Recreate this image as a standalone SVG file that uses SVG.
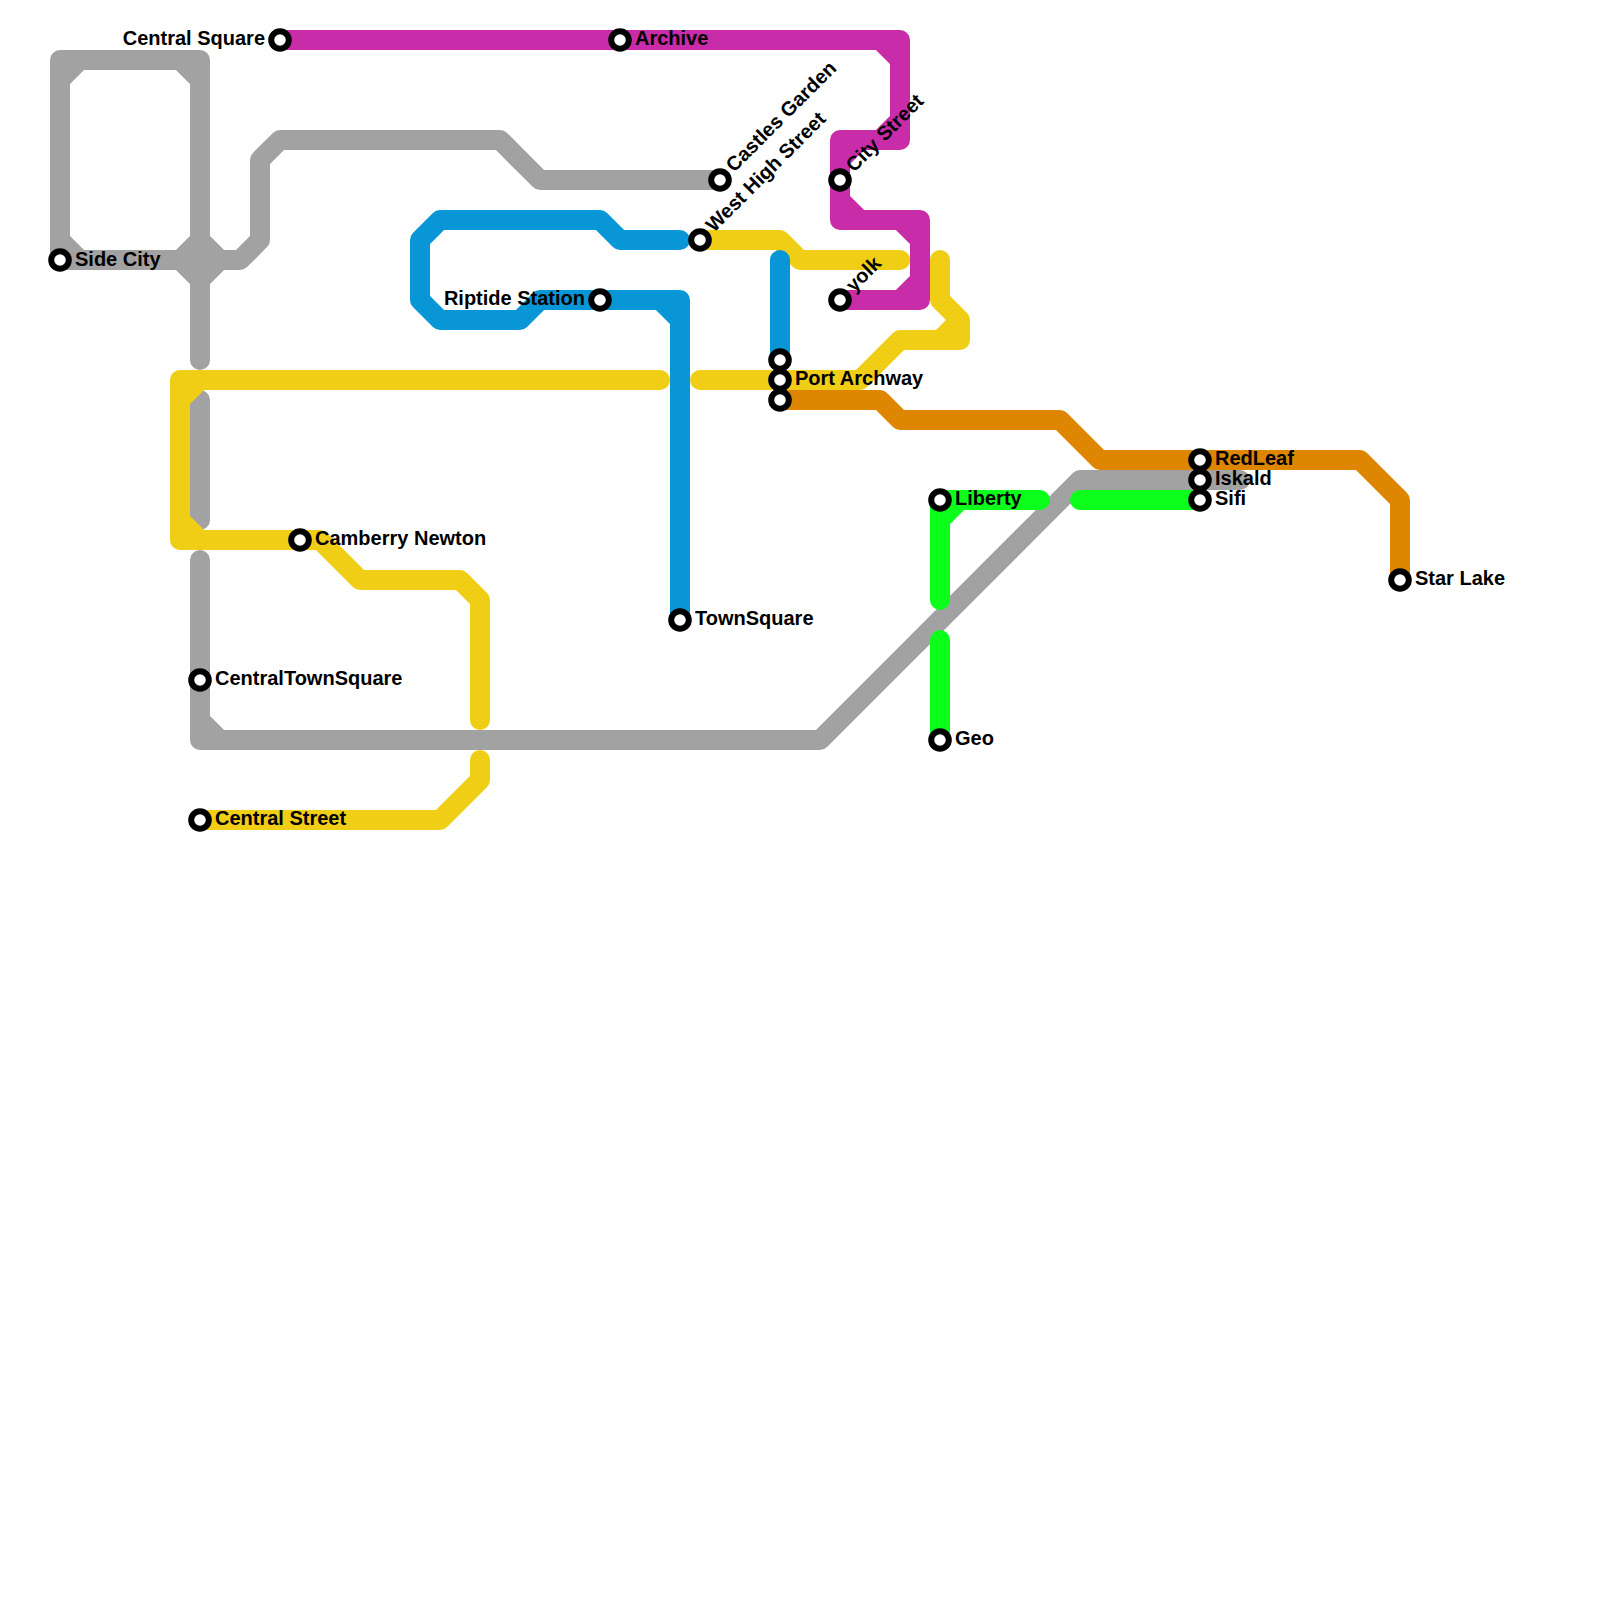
<svg xmlns="http://www.w3.org/2000/svg" width="1600" height="1600" viewBox="0 0 1600 1600">
<style>
.l{fill:none;stroke-width:20;stroke-linecap:round;stroke-linejoin:round}
.grey{stroke:#a2a2a2}.yellow{stroke:#f0ce15}.blue{stroke:#0896d7}.magenta{stroke:#c92ca8}.orange{stroke:#df8600}.green{stroke:#0bff1a}
.s{fill:#fff;stroke:#000;stroke-width:6}
text{font-family:"Liberation Sans",Arial,sans-serif;font-size:20px;font-weight:bold;fill:#000}
.e{text-anchor:end}
</style>
<rect width="1600" height="1600" fill="#fff"/>
<g id="connectors">
<path class="l grey" d="M60 260V60H200V360M60 80L80 60M180 60L200 80M60 240L80 260M60 260H240L260 240V160L280 140H500L540 180H720M180 260L200 240L220 260L200 280ZM200 400V520M200 560V740H820L1080 480H1240M200 720L220 740"/>
<path class="l yellow" d="M660 380H180V540H320L360 580H460L480 600V720M180 400L200 380M180 520L200 540M480 760V780L440 820H200M700 380H860L900 340H960V320L940 300V260M940 340L960 320M700 240H780L800 260H900"/>
<path class="l blue" d="M680 240H620L600 220H440L420 240V300L440 320H520L540 300H680V620M660 300L680 320M780 260V360"/>
<path class="l magenta" d="M280 40H900V140H840V220H920V300H840M880 40L900 60M880 140L900 120M840 160L860 140M840 200L860 220M900 220L920 240M920 280L900 300"/>
<path class="l orange" d="M780 400H880L900 420H1060L1100 460H1360L1400 500V580"/>
<path class="l green" d="M1040 500H940V600M940 520L960 500M940 640V740M1080 500H1200"/>
</g>
<g id="n-central-square"><circle class="s" cx="280" cy="40" r="8.8"/><text class="e" x="265" y="45">Central Square</text></g>
<g id="n-archive"><circle class="s" cx="620" cy="40" r="8.8"/><text x="635" y="45">Archive</text></g>
<g id="n-side-city"><circle class="s" cx="60" cy="260" r="8.8"/><text x="75" y="266">Side City</text></g>
<g id="n-castles-garden"><circle class="s" cx="720" cy="180" r="8.8"/><text transform="translate(734 173) rotate(-45)">Castles Garden</text></g>
<g id="n-west-high-street"><circle class="s" cx="700" cy="240" r="8.8"/><text transform="translate(714 233) rotate(-45)">West High Street</text></g>
<g id="n-city-street"><circle class="s" cx="840" cy="180" r="8.8"/><text transform="translate(854 173) rotate(-45)">City Street</text></g>
<g id="n-yolk"><circle class="s" cx="840" cy="300" r="8.8"/><text transform="translate(854 293) rotate(-45)">yolk</text></g>
<g id="n-riptide-station"><circle class="s" cx="600" cy="300" r="8.8"/><text class="e" x="585" y="305">Riptide Station</text></g>
<g id="n-townsquare"><circle class="s" cx="680" cy="620" r="8.8"/><text x="695" y="625">TownSquare</text></g>
<g id="n-blue-end"><circle class="s" cx="780" cy="360" r="8.8"/></g>
<g id="n-port-archway"><circle class="s" cx="780" cy="380" r="8.8"/><text x="795" y="385">Port Archway</text></g>
<g id="n-orange-start"><circle class="s" cx="780" cy="400" r="8.8"/></g>
<g id="n-redleaf"><circle class="s" cx="1200" cy="460" r="8.8"/><text x="1215" y="465">RedLeaf</text></g>
<g id="n-iskald"><circle class="s" cx="1200" cy="480" r="8.8"/><text x="1215" y="485">Iskald</text></g>
<g id="n-sifi"><circle class="s" cx="1200" cy="500" r="8.8"/><text x="1215" y="505">Sifi</text></g>
<g id="n-liberty"><circle class="s" cx="940" cy="500" r="8.8"/><text x="955" y="505">Liberty</text></g>
<g id="n-geo"><circle class="s" cx="940" cy="740" r="8.8"/><text x="955" y="745">Geo</text></g>
<g id="n-star-lake"><circle class="s" cx="1400" cy="580" r="8.8"/><text x="1415" y="585">Star Lake</text></g>
<g id="n-camberry-newton"><circle class="s" cx="300" cy="540" r="8.8"/><text x="315" y="545">Camberry Newton</text></g>
<g id="n-centraltownsquare"><circle class="s" cx="200" cy="680" r="8.8"/><text x="215" y="685">CentralTownSquare</text></g>
<g id="n-central-street"><circle class="s" cx="200" cy="820" r="8.8"/><text x="215" y="825">Central Street</text></g>
</svg>
